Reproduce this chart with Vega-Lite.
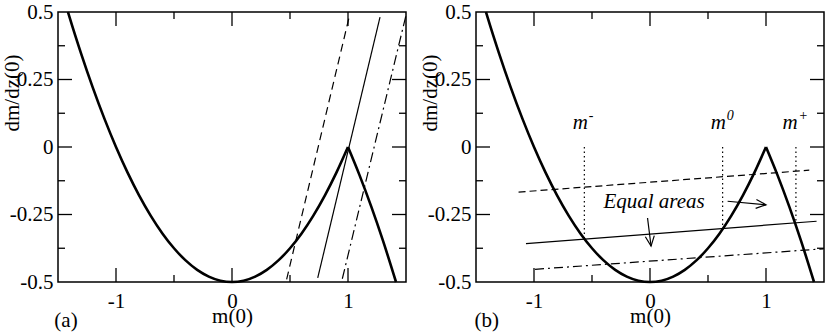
{
"$schema": "https://vega.github.io/schema/vega-lite/v6.json",
"padding": {"left": 0, "top": 0, "right": 0, "bottom": 0},
"bounds": "flush",
"spacing": 70,
"datasets": {
 "curve": [
  {"b":"L","x":-1.414,"y":0.5},{"b":"L","x":-1.4,"y":0.48},{"b":"L","x":-1.3,"y":0.345},{"b":"L","x":-1.2,"y":0.22},{"b":"L","x":-1.1,"y":0.105},{"b":"L","x":-1.0,"y":0.0},{"b":"L","x":-0.9,"y":-0.095},{"b":"L","x":-0.8,"y":-0.18},{"b":"L","x":-0.7,"y":-0.255},{"b":"L","x":-0.6,"y":-0.32},{"b":"L","x":-0.5,"y":-0.375},{"b":"L","x":-0.4,"y":-0.42},{"b":"L","x":-0.3,"y":-0.455},{"b":"L","x":-0.2,"y":-0.48},{"b":"L","x":-0.1,"y":-0.495},{"b":"L","x":0.0,"y":-0.5},{"b":"L","x":0.1,"y":-0.495},{"b":"L","x":0.2,"y":-0.48},{"b":"L","x":0.3,"y":-0.455},{"b":"L","x":0.4,"y":-0.42},{"b":"L","x":0.5,"y":-0.375},{"b":"L","x":0.6,"y":-0.32},{"b":"L","x":0.7,"y":-0.255},{"b":"L","x":0.8,"y":-0.18},{"b":"L","x":0.9,"y":-0.095},{"b":"L","x":1.0,"y":0.0},
  {"b":"R","x":1.0,"y":0.0},{"b":"R","x":1.1,"y":-0.105},{"b":"R","x":1.2,"y":-0.22},{"b":"R","x":1.3,"y":-0.345},{"b":"R","x":1.414,"y":-0.5}
 ],
 "xmaj": [{"x":-1,"y":-0.5},{"x":0,"y":-0.5},{"x":1,"y":-0.5},{"x":-1,"y":0.5},{"x":0,"y":0.5},{"x":1,"y":0.5}],
 "xmin": [{"x":-0.5,"y":-0.5},{"x":0.5,"y":-0.5},{"x":-0.5,"y":0.5},{"x":0.5,"y":0.5}],
 "ymaj": [{"x":-1.5,"y":-0.25},{"x":-1.5,"y":0},{"x":-1.5,"y":0.25},{"x":1.5,"y":-0.25},{"x":1.5,"y":0},{"x":1.5,"y":0.25}],
 "ymin": [{"x":-1.5,"y":-0.375},{"x":-1.5,"y":-0.125},{"x":-1.5,"y":0.125},{"x":-1.5,"y":0.375},{"x":1.5,"y":-0.375},{"x":1.5,"y":-0.125},{"x":1.5,"y":0.125},{"x":1.5,"y":0.375}],
 "linesA": [
  {"s":"dash","x":0.471,"y":-0.49},{"s":"dash","x":1.009,"y":0.48},
  {"s":"solid","x":0.739,"y":-0.485},{"s":"solid","x":1.276,"y":0.481},
  {"s":"dashdot","x":0.951,"y":-0.488},{"s":"dashdot","x":1.5,"y":0.488}
 ],
 "linesB": [
  {"s":"dash","x":-1.133,"y":-0.167},{"s":"dash","x":1.373,"y":-0.086},
  {"s":"solid","x":-1.069,"y":-0.358},{"s":"solid","x":1.436,"y":-0.275},
  {"s":"dashdot","x":-0.991,"y":-0.453},{"s":"dashdot","x":1.495,"y":-0.377}
 ],
 "vlines": [
  {"x":-0.566,"y":0,"y2":-0.342},{"x":0.626,"y":0,"y2":-0.296},{"x":1.258,"y":0,"y2":-0.278}
 ],
 "mlabels": [
  {"t":"m","s":"-","x":-0.667,"y":0.066},{"t":"m","s":"0","x":0.524,"y":0.066},{"t":"m","s":"+","x":1.143,"y":0.066}
 ],
 "shafts": [
  {"id":"a1","x":0.669,"y":-0.201},{"id":"a1","x":1.0,"y":-0.214},
  {"id":"a2","x":-0.021,"y":-0.263},{"id":"a2","x":0.009,"y":-0.367}
 ],
 "heads": [
  {"id":"a1","x":1.0,"y":-0.214},{"id":"a2","x":0.009,"y":-0.367}
 ],
 "labA": [{"t":"(a)","x":-1.431,"y":-0.665}],
 "labB": [{"t":"(b)","x":-1.407,"y":-0.665}],
 "eq": [{"t":"Equal areas","x":0.035,"y":-0.226}]
},
"hconcat": [
 {
  "width": 348, "height": 270,
  "layer": [
   {"data":{"name":"curve"},
    "mark":{"type":"line","interpolate":"monotone","strokeWidth":2.6,"color":"black"},
    "encoding":{
     "x":{"field":"x","type":"quantitative","scale":{"domain":[-1.5,1.5],"nice":false,"zero":false},"axis":{"orient":"bottom","values":[-1,0,1],"ticks":false,"labelPadding":8,"labelFlush":false,"labelExpr":"''+datum.value","title":"m(0)","titleY":40,"titleBaseline":"alphabetic"}},
     "y":{"field":"y","type":"quantitative","scale":{"domain":[-0.5,0.5],"nice":false,"zero":false},"axis":{"orient":"left","values":[-0.5,-0.25,0,0.25,0.5],"ticks":false,"labelPadding":5,"labelExpr":"''+datum.value","title":"dm/dz(0)","titleX":-40,"titleY":80.5,"titleAngle":270,"titleBaseline":"alphabetic","titleAlign":"center"}},
     "detail":{"field":"b"}}},
   {"data":{"name":"xmaj"},"mark":{"type":"tick","orient":"vertical","size":28,"thickness":1.3,"color":"black","opacity":1,"clip":true},
    "encoding":{
     "x":{"field":"x","type":"quantitative","scale":{"domain":[-1.5,1.5],"nice":false,"zero":false},"axis":{"orient":"bottom","values":[-1,0,1],"ticks":false,"labelPadding":8,"labelFlush":false,"labelExpr":"''+datum.value","title":"m(0)","titleY":40,"titleBaseline":"alphabetic"}},
     "y":{"field":"y","type":"quantitative","scale":{"domain":[-0.5,0.5],"nice":false,"zero":false},"axis":{"orient":"left","values":[-0.5,-0.25,0,0.25,0.5],"ticks":false,"labelPadding":5,"labelExpr":"''+datum.value","title":"dm/dz(0)","titleX":-40,"titleY":80.5,"titleAngle":270,"titleBaseline":"alphabetic","titleAlign":"center"}}}},
   {"data":{"name":"xmin"},"mark":{"type":"tick","orient":"vertical","size":14,"thickness":1.3,"color":"black","opacity":1,"clip":true},
    "encoding":{
     "x":{"field":"x","type":"quantitative","scale":{"domain":[-1.5,1.5],"nice":false,"zero":false},"axis":{"orient":"bottom","values":[-1,0,1],"ticks":false,"labelPadding":8,"labelFlush":false,"labelExpr":"''+datum.value","title":"m(0)","titleY":40,"titleBaseline":"alphabetic"}},
     "y":{"field":"y","type":"quantitative","scale":{"domain":[-0.5,0.5],"nice":false,"zero":false},"axis":{"orient":"left","values":[-0.5,-0.25,0,0.25,0.5],"ticks":false,"labelPadding":5,"labelExpr":"''+datum.value","title":"dm/dz(0)","titleX":-40,"titleY":80.5,"titleAngle":270,"titleBaseline":"alphabetic","titleAlign":"center"}}}},
   {"data":{"name":"ymaj"},"mark":{"type":"tick","orient":"horizontal","size":28,"thickness":1.3,"color":"black","opacity":1,"clip":true},
    "encoding":{
     "x":{"field":"x","type":"quantitative","scale":{"domain":[-1.5,1.5],"nice":false,"zero":false},"axis":{"orient":"bottom","values":[-1,0,1],"ticks":false,"labelPadding":8,"labelFlush":false,"labelExpr":"''+datum.value","title":"m(0)","titleY":40,"titleBaseline":"alphabetic"}},
     "y":{"field":"y","type":"quantitative","scale":{"domain":[-0.5,0.5],"nice":false,"zero":false},"axis":{"orient":"left","values":[-0.5,-0.25,0,0.25,0.5],"ticks":false,"labelPadding":5,"labelExpr":"''+datum.value","title":"dm/dz(0)","titleX":-40,"titleY":80.5,"titleAngle":270,"titleBaseline":"alphabetic","titleAlign":"center"}}}},
   {"data":{"name":"ymin"},"mark":{"type":"tick","orient":"horizontal","size":14,"thickness":1.3,"color":"black","opacity":1,"clip":true},
    "encoding":{
     "x":{"field":"x","type":"quantitative","scale":{"domain":[-1.5,1.5],"nice":false,"zero":false},"axis":{"orient":"bottom","values":[-1,0,1],"ticks":false,"labelPadding":8,"labelFlush":false,"labelExpr":"''+datum.value","title":"m(0)","titleY":40,"titleBaseline":"alphabetic"}},
     "y":{"field":"y","type":"quantitative","scale":{"domain":[-0.5,0.5],"nice":false,"zero":false},"axis":{"orient":"left","values":[-0.5,-0.25,0,0.25,0.5],"ticks":false,"labelPadding":5,"labelExpr":"''+datum.value","title":"dm/dz(0)","titleX":-40,"titleY":80.5,"titleAngle":270,"titleBaseline":"alphabetic","titleAlign":"center"}}}},
   {"data":{"name":"linesA"},"transform":[{"filter":"datum.s==='dash'"}],
    "mark":{"type":"line","strokeDash":[8,5],"strokeWidth":1.2,"color":"black"},
    "encoding":{
     "x":{"field":"x","type":"quantitative","scale":{"domain":[-1.5,1.5],"nice":false,"zero":false},"axis":{"orient":"bottom","values":[-1,0,1],"ticks":false,"labelPadding":8,"labelFlush":false,"labelExpr":"''+datum.value","title":"m(0)","titleY":40,"titleBaseline":"alphabetic"}},
     "y":{"field":"y","type":"quantitative","scale":{"domain":[-0.5,0.5],"nice":false,"zero":false},"axis":{"orient":"left","values":[-0.5,-0.25,0,0.25,0.5],"ticks":false,"labelPadding":5,"labelExpr":"''+datum.value","title":"dm/dz(0)","titleX":-40,"titleY":80.5,"titleAngle":270,"titleBaseline":"alphabetic","titleAlign":"center"}}}},
   {"data":{"name":"linesA"},"transform":[{"filter":"datum.s==='solid'"}],
    "mark":{"type":"line","strokeWidth":1.2,"color":"black"},
    "encoding":{
     "x":{"field":"x","type":"quantitative","scale":{"domain":[-1.5,1.5],"nice":false,"zero":false},"axis":{"orient":"bottom","values":[-1,0,1],"ticks":false,"labelPadding":8,"labelFlush":false,"labelExpr":"''+datum.value","title":"m(0)","titleY":40,"titleBaseline":"alphabetic"}},
     "y":{"field":"y","type":"quantitative","scale":{"domain":[-0.5,0.5],"nice":false,"zero":false},"axis":{"orient":"left","values":[-0.5,-0.25,0,0.25,0.5],"ticks":false,"labelPadding":5,"labelExpr":"''+datum.value","title":"dm/dz(0)","titleX":-40,"titleY":80.5,"titleAngle":270,"titleBaseline":"alphabetic","titleAlign":"center"}}}},
   {"data":{"name":"linesA"},"transform":[{"filter":"datum.s==='dashdot'"}],
    "mark":{"type":"line","strokeDash":[10,4,2,4],"strokeWidth":1.2,"color":"black"},
    "encoding":{
     "x":{"field":"x","type":"quantitative","scale":{"domain":[-1.5,1.5],"nice":false,"zero":false},"axis":{"orient":"bottom","values":[-1,0,1],"ticks":false,"labelPadding":8,"labelFlush":false,"labelExpr":"''+datum.value","title":"m(0)","titleY":40,"titleBaseline":"alphabetic"}},
     "y":{"field":"y","type":"quantitative","scale":{"domain":[-0.5,0.5],"nice":false,"zero":false},"axis":{"orient":"left","values":[-0.5,-0.25,0,0.25,0.5],"ticks":false,"labelPadding":5,"labelExpr":"''+datum.value","title":"dm/dz(0)","titleX":-40,"titleY":80.5,"titleAngle":270,"titleBaseline":"alphabetic","titleAlign":"center"}}}},
   {"mark":{"type":"rule","strokeDash":[1.5,3],"strokeWidth":1.2,"color":"black"},
    "encoding":{
     "y":{"datum":0,"type":"quantitative","scale":{"domain":[-0.5,0.5],"nice":false,"zero":false},"axis":{"orient":"left","values":[-0.5,-0.25,0,0.25,0.5],"ticks":false,"labelPadding":5,"labelExpr":"''+datum.value","title":"dm/dz(0)","titleX":-40,"titleY":80.5,"titleAngle":270,"titleBaseline":"alphabetic","titleAlign":"center"}}}},
   {"data":{"name":"labA"},
    "mark":{"type":"text","align":"center","baseline":"alphabetic","fontSize":21,"color":"black"},
    "encoding":{
     "x":{"field":"x","type":"quantitative","scale":{"domain":[-1.5,1.5],"nice":false,"zero":false},"axis":{"orient":"bottom","values":[-1,0,1],"ticks":false,"labelPadding":8,"labelFlush":false,"labelExpr":"''+datum.value","title":"m(0)","titleY":40,"titleBaseline":"alphabetic"}},
     "y":{"field":"y","type":"quantitative","scale":{"domain":[-0.5,0.5],"nice":false,"zero":false},"axis":{"orient":"left","values":[-0.5,-0.25,0,0.25,0.5],"ticks":false,"labelPadding":5,"labelExpr":"''+datum.value","title":"dm/dz(0)","titleX":-40,"titleY":80.5,"titleAngle":270,"titleBaseline":"alphabetic","titleAlign":"center"}},
     "text":{"field":"t"}}}
  ]
 },
 {
  "width": 348, "height": 270,
  "layer": [
   {"data":{"name":"curve"},
    "mark":{"type":"line","interpolate":"monotone","strokeWidth":2.6,"color":"black"},
    "encoding":{
     "x":{"field":"x","type":"quantitative","scale":{"domain":[-1.5,1.5],"nice":false,"zero":false},"axis":{"orient":"bottom","values":[-1,0,1],"ticks":false,"labelPadding":8,"labelFlush":false,"labelExpr":"''+datum.value","title":"m(0)","titleY":40,"titleBaseline":"alphabetic"}},
     "y":{"field":"y","type":"quantitative","scale":{"domain":[-0.5,0.5],"nice":false,"zero":false},"axis":{"orient":"left","values":[-0.5,-0.25,0,0.25,0.5],"ticks":false,"labelPadding":5,"labelExpr":"''+datum.value","title":"dm/dz(0)","titleX":-40,"titleY":80.5,"titleAngle":270,"titleBaseline":"alphabetic","titleAlign":"center"}},
     "detail":{"field":"b"}}},
   {"data":{"name":"xmaj"},"mark":{"type":"tick","orient":"vertical","size":28,"thickness":1.3,"color":"black","opacity":1,"clip":true},
    "encoding":{
     "x":{"field":"x","type":"quantitative","scale":{"domain":[-1.5,1.5],"nice":false,"zero":false},"axis":{"orient":"bottom","values":[-1,0,1],"ticks":false,"labelPadding":8,"labelFlush":false,"labelExpr":"''+datum.value","title":"m(0)","titleY":40,"titleBaseline":"alphabetic"}},
     "y":{"field":"y","type":"quantitative","scale":{"domain":[-0.5,0.5],"nice":false,"zero":false},"axis":{"orient":"left","values":[-0.5,-0.25,0,0.25,0.5],"ticks":false,"labelPadding":5,"labelExpr":"''+datum.value","title":"dm/dz(0)","titleX":-40,"titleY":80.5,"titleAngle":270,"titleBaseline":"alphabetic","titleAlign":"center"}}}},
   {"data":{"name":"xmin"},"mark":{"type":"tick","orient":"vertical","size":14,"thickness":1.3,"color":"black","opacity":1,"clip":true},
    "encoding":{
     "x":{"field":"x","type":"quantitative","scale":{"domain":[-1.5,1.5],"nice":false,"zero":false},"axis":{"orient":"bottom","values":[-1,0,1],"ticks":false,"labelPadding":8,"labelFlush":false,"labelExpr":"''+datum.value","title":"m(0)","titleY":40,"titleBaseline":"alphabetic"}},
     "y":{"field":"y","type":"quantitative","scale":{"domain":[-0.5,0.5],"nice":false,"zero":false},"axis":{"orient":"left","values":[-0.5,-0.25,0,0.25,0.5],"ticks":false,"labelPadding":5,"labelExpr":"''+datum.value","title":"dm/dz(0)","titleX":-40,"titleY":80.5,"titleAngle":270,"titleBaseline":"alphabetic","titleAlign":"center"}}}},
   {"data":{"name":"ymaj"},"mark":{"type":"tick","orient":"horizontal","size":28,"thickness":1.3,"color":"black","opacity":1,"clip":true},
    "encoding":{
     "x":{"field":"x","type":"quantitative","scale":{"domain":[-1.5,1.5],"nice":false,"zero":false},"axis":{"orient":"bottom","values":[-1,0,1],"ticks":false,"labelPadding":8,"labelFlush":false,"labelExpr":"''+datum.value","title":"m(0)","titleY":40,"titleBaseline":"alphabetic"}},
     "y":{"field":"y","type":"quantitative","scale":{"domain":[-0.5,0.5],"nice":false,"zero":false},"axis":{"orient":"left","values":[-0.5,-0.25,0,0.25,0.5],"ticks":false,"labelPadding":5,"labelExpr":"''+datum.value","title":"dm/dz(0)","titleX":-40,"titleY":80.5,"titleAngle":270,"titleBaseline":"alphabetic","titleAlign":"center"}}}},
   {"data":{"name":"ymin"},"mark":{"type":"tick","orient":"horizontal","size":14,"thickness":1.3,"color":"black","opacity":1,"clip":true},
    "encoding":{
     "x":{"field":"x","type":"quantitative","scale":{"domain":[-1.5,1.5],"nice":false,"zero":false},"axis":{"orient":"bottom","values":[-1,0,1],"ticks":false,"labelPadding":8,"labelFlush":false,"labelExpr":"''+datum.value","title":"m(0)","titleY":40,"titleBaseline":"alphabetic"}},
     "y":{"field":"y","type":"quantitative","scale":{"domain":[-0.5,0.5],"nice":false,"zero":false},"axis":{"orient":"left","values":[-0.5,-0.25,0,0.25,0.5],"ticks":false,"labelPadding":5,"labelExpr":"''+datum.value","title":"dm/dz(0)","titleX":-40,"titleY":80.5,"titleAngle":270,"titleBaseline":"alphabetic","titleAlign":"center"}}}},
   {"data":{"name":"linesB"},"transform":[{"filter":"datum.s==='dash'"}],
    "mark":{"type":"line","strokeDash":[7,4],"strokeWidth":1.2,"color":"black"},
    "encoding":{
     "x":{"field":"x","type":"quantitative","scale":{"domain":[-1.5,1.5],"nice":false,"zero":false},"axis":{"orient":"bottom","values":[-1,0,1],"ticks":false,"labelPadding":8,"labelFlush":false,"labelExpr":"''+datum.value","title":"m(0)","titleY":40,"titleBaseline":"alphabetic"}},
     "y":{"field":"y","type":"quantitative","scale":{"domain":[-0.5,0.5],"nice":false,"zero":false},"axis":{"orient":"left","values":[-0.5,-0.25,0,0.25,0.5],"ticks":false,"labelPadding":5,"labelExpr":"''+datum.value","title":"dm/dz(0)","titleX":-40,"titleY":80.5,"titleAngle":270,"titleBaseline":"alphabetic","titleAlign":"center"}}}},
   {"data":{"name":"linesB"},"transform":[{"filter":"datum.s==='solid'"}],
    "mark":{"type":"line","strokeWidth":1.2,"color":"black"},
    "encoding":{
     "x":{"field":"x","type":"quantitative","scale":{"domain":[-1.5,1.5],"nice":false,"zero":false},"axis":{"orient":"bottom","values":[-1,0,1],"ticks":false,"labelPadding":8,"labelFlush":false,"labelExpr":"''+datum.value","title":"m(0)","titleY":40,"titleBaseline":"alphabetic"}},
     "y":{"field":"y","type":"quantitative","scale":{"domain":[-0.5,0.5],"nice":false,"zero":false},"axis":{"orient":"left","values":[-0.5,-0.25,0,0.25,0.5],"ticks":false,"labelPadding":5,"labelExpr":"''+datum.value","title":"dm/dz(0)","titleX":-40,"titleY":80.5,"titleAngle":270,"titleBaseline":"alphabetic","titleAlign":"center"}}}},
   {"data":{"name":"linesB"},"transform":[{"filter":"datum.s==='dashdot'"}],
    "mark":{"type":"line","strokeDash":[9,4,2,4],"strokeWidth":1.2,"color":"black"},
    "encoding":{
     "x":{"field":"x","type":"quantitative","scale":{"domain":[-1.5,1.5],"nice":false,"zero":false},"axis":{"orient":"bottom","values":[-1,0,1],"ticks":false,"labelPadding":8,"labelFlush":false,"labelExpr":"''+datum.value","title":"m(0)","titleY":40,"titleBaseline":"alphabetic"}},
     "y":{"field":"y","type":"quantitative","scale":{"domain":[-0.5,0.5],"nice":false,"zero":false},"axis":{"orient":"left","values":[-0.5,-0.25,0,0.25,0.5],"ticks":false,"labelPadding":5,"labelExpr":"''+datum.value","title":"dm/dz(0)","titleX":-40,"titleY":80.5,"titleAngle":270,"titleBaseline":"alphabetic","titleAlign":"center"}}}},
   {"mark":{"type":"rule","strokeDash":[1.5,3],"strokeWidth":1.2,"color":"black"},
    "encoding":{
     "y":{"datum":0,"type":"quantitative","scale":{"domain":[-0.5,0.5],"nice":false,"zero":false},"axis":{"orient":"left","values":[-0.5,-0.25,0,0.25,0.5],"ticks":false,"labelPadding":5,"labelExpr":"''+datum.value","title":"dm/dz(0)","titleX":-40,"titleY":80.5,"titleAngle":270,"titleBaseline":"alphabetic","titleAlign":"center"}}}},
   {"data":{"name":"vlines"},
    "mark":{"type":"rule","strokeDash":[1.5,3],"strokeWidth":1.2,"color":"black"},
    "encoding":{
     "x":{"field":"x","type":"quantitative","scale":{"domain":[-1.5,1.5],"nice":false,"zero":false},"axis":{"orient":"bottom","values":[-1,0,1],"ticks":false,"labelPadding":8,"labelFlush":false,"labelExpr":"''+datum.value","title":"m(0)","titleY":40,"titleBaseline":"alphabetic"}},
     "y":{"field":"y","type":"quantitative","scale":{"domain":[-0.5,0.5],"nice":false,"zero":false},"axis":{"orient":"left","values":[-0.5,-0.25,0,0.25,0.5],"ticks":false,"labelPadding":5,"labelExpr":"''+datum.value","title":"dm/dz(0)","titleX":-40,"titleY":80.5,"titleAngle":270,"titleBaseline":"alphabetic","titleAlign":"center"}},
     "y2":{"field":"y2"}}},
   {"data":{"name":"mlabels"},
    "mark":{"type":"text","align":"left","baseline":"alphabetic","fontSize":21,"fontStyle":"italic","color":"black"},
    "encoding":{
     "x":{"field":"x","type":"quantitative","scale":{"domain":[-1.5,1.5],"nice":false,"zero":false},"axis":{"orient":"bottom","values":[-1,0,1],"ticks":false,"labelPadding":8,"labelFlush":false,"labelExpr":"''+datum.value","title":"m(0)","titleY":40,"titleBaseline":"alphabetic"}},
     "y":{"field":"y","type":"quantitative","scale":{"domain":[-0.5,0.5],"nice":false,"zero":false},"axis":{"orient":"left","values":[-0.5,-0.25,0,0.25,0.5],"ticks":false,"labelPadding":5,"labelExpr":"''+datum.value","title":"dm/dz(0)","titleX":-40,"titleY":80.5,"titleAngle":270,"titleBaseline":"alphabetic","titleAlign":"center"}},
     "text":{"field":"t"}}},
   {"data":{"name":"mlabels"},
    "mark":{"type":"text","align":"left","baseline":"alphabetic","fontSize":14,"fontStyle":"italic","color":"black","dx":16,"dy":-9},
    "encoding":{
     "x":{"field":"x","type":"quantitative","scale":{"domain":[-1.5,1.5],"nice":false,"zero":false},"axis":{"orient":"bottom","values":[-1,0,1],"ticks":false,"labelPadding":8,"labelFlush":false,"labelExpr":"''+datum.value","title":"m(0)","titleY":40,"titleBaseline":"alphabetic"}},
     "y":{"field":"y","type":"quantitative","scale":{"domain":[-0.5,0.5],"nice":false,"zero":false},"axis":{"orient":"left","values":[-0.5,-0.25,0,0.25,0.5],"ticks":false,"labelPadding":5,"labelExpr":"''+datum.value","title":"dm/dz(0)","titleX":-40,"titleY":80.5,"titleAngle":270,"titleBaseline":"alphabetic","titleAlign":"center"}},
     "text":{"field":"s"}}},
   {"data":{"name":"eq"},
    "mark":{"type":"text","align":"center","baseline":"alphabetic","fontSize":21,"fontStyle":"italic","color":"black"},
    "encoding":{
     "x":{"field":"x","type":"quantitative","scale":{"domain":[-1.5,1.5],"nice":false,"zero":false},"axis":{"orient":"bottom","values":[-1,0,1],"ticks":false,"labelPadding":8,"labelFlush":false,"labelExpr":"''+datum.value","title":"m(0)","titleY":40,"titleBaseline":"alphabetic"}},
     "y":{"field":"y","type":"quantitative","scale":{"domain":[-0.5,0.5],"nice":false,"zero":false},"axis":{"orient":"left","values":[-0.5,-0.25,0,0.25,0.5],"ticks":false,"labelPadding":5,"labelExpr":"''+datum.value","title":"dm/dz(0)","titleX":-40,"titleY":80.5,"titleAngle":270,"titleBaseline":"alphabetic","titleAlign":"center"}},
     "text":{"field":"t"}}},
   {"data":{"name":"shafts"},
    "mark":{"type":"line","strokeWidth":1.2,"color":"black"},
    "encoding":{
     "x":{"field":"x","type":"quantitative","scale":{"domain":[-1.5,1.5],"nice":false,"zero":false},"axis":{"orient":"bottom","values":[-1,0,1],"ticks":false,"labelPadding":8,"labelFlush":false,"labelExpr":"''+datum.value","title":"m(0)","titleY":40,"titleBaseline":"alphabetic"}},
     "y":{"field":"y","type":"quantitative","scale":{"domain":[-0.5,0.5],"nice":false,"zero":false},"axis":{"orient":"left","values":[-0.5,-0.25,0,0.25,0.5],"ticks":false,"labelPadding":5,"labelExpr":"''+datum.value","title":"dm/dz(0)","titleX":-40,"titleY":80.5,"titleAngle":270,"titleBaseline":"alphabetic","titleAlign":"center"}},
     "detail":{"field":"id"}}},
   {"data":{"name":"heads"},"transform":[{"filter":"datum.id==='a1'"}],
    "mark":{"type":"point","shape":"M-1,-0.45L0,0L-1,0.45","size":400,"angle":5,"filled":false,"stroke":"black","strokeWidth":1.2,"opacity":1},
    "encoding":{
     "x":{"field":"x","type":"quantitative","scale":{"domain":[-1.5,1.5],"nice":false,"zero":false},"axis":{"orient":"bottom","values":[-1,0,1],"ticks":false,"labelPadding":8,"labelFlush":false,"labelExpr":"''+datum.value","title":"m(0)","titleY":40,"titleBaseline":"alphabetic"}},
     "y":{"field":"y","type":"quantitative","scale":{"domain":[-0.5,0.5],"nice":false,"zero":false},"axis":{"orient":"left","values":[-0.5,-0.25,0,0.25,0.5],"ticks":false,"labelPadding":5,"labelExpr":"''+datum.value","title":"dm/dz(0)","titleX":-40,"titleY":80.5,"titleAngle":270,"titleBaseline":"alphabetic","titleAlign":"center"}}}},
   {"data":{"name":"heads"},"transform":[{"filter":"datum.id==='a2'"}],
    "mark":{"type":"point","shape":"M-1,-0.45L0,0L-1,0.45","size":400,"angle":83,"filled":false,"stroke":"black","strokeWidth":1.2,"opacity":1},
    "encoding":{
     "x":{"field":"x","type":"quantitative","scale":{"domain":[-1.5,1.5],"nice":false,"zero":false},"axis":{"orient":"bottom","values":[-1,0,1],"ticks":false,"labelPadding":8,"labelFlush":false,"labelExpr":"''+datum.value","title":"m(0)","titleY":40,"titleBaseline":"alphabetic"}},
     "y":{"field":"y","type":"quantitative","scale":{"domain":[-0.5,0.5],"nice":false,"zero":false},"axis":{"orient":"left","values":[-0.5,-0.25,0,0.25,0.5],"ticks":false,"labelPadding":5,"labelExpr":"''+datum.value","title":"dm/dz(0)","titleX":-40,"titleY":80.5,"titleAngle":270,"titleBaseline":"alphabetic","titleAlign":"center"}}}},
   {"data":{"name":"labB"},
    "mark":{"type":"text","align":"center","baseline":"alphabetic","fontSize":21,"color":"black"},
    "encoding":{
     "x":{"field":"x","type":"quantitative","scale":{"domain":[-1.5,1.5],"nice":false,"zero":false},"axis":{"orient":"bottom","values":[-1,0,1],"ticks":false,"labelPadding":8,"labelFlush":false,"labelExpr":"''+datum.value","title":"m(0)","titleY":40,"titleBaseline":"alphabetic"}},
     "y":{"field":"y","type":"quantitative","scale":{"domain":[-0.5,0.5],"nice":false,"zero":false},"axis":{"orient":"left","values":[-0.5,-0.25,0,0.25,0.5],"ticks":false,"labelPadding":5,"labelExpr":"''+datum.value","title":"dm/dz(0)","titleX":-40,"titleY":80.5,"titleAngle":270,"titleBaseline":"alphabetic","titleAlign":"center"}},
     "text":{"field":"t"}}}
  ]
 }
],
"config": {
 "background": "white",
 "font": "Liberation Serif",
 "text": {"font": "Liberation Serif"},
 "view": {"stroke": "black", "strokeWidth": 1.5},
 "axis": {"grid": false, "domain": false, "labelFont": "Liberation Serif", "titleFont": "Liberation Serif", "labelFontSize": 21, "titleFontSize": 21, "labelColor": "black", "titleColor": "black", "titleFontWeight": "normal"}
}
}
